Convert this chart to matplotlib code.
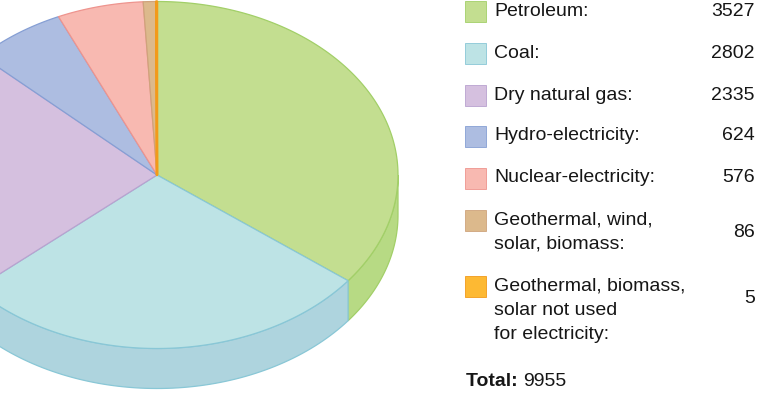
import numpy as np
import matplotlib
matplotlib.use("Agg")
import matplotlib.pyplot as plt
from matplotlib.patches import Polygon, Rectangle

# ---- data ----
categories = ["Petroleum:", "Coal:", "Dry natural gas:", "Hydro-electricity:",
              "Nuclear-electricity:", "Geothermal, wind,\nsolar, biomass:",
              "Geothermal, biomass,\nsolar not used\nfor electricity:"]
values = [3527, 2802, 2335, 624, 576, 86, 5]
total_label = "9955"

# ---- styles ----
face_colors = ["#c3de90", "#bde3e5", "#d5c0df", "#adbde1", "#f8b9b1", "#dcb98c", "#fdb933"]
edge_colors = ["#a2cf68", "#89c7d6", "#b9a2cf", "#869fd4", "#ee948e", "#cfa37c", "#f29a1a"]
side_colors = ["#b7da84", "#aed4de", "#c9b2d6", "#9fb0d8", "#efaaa3", "#d0ac80", "#f5ab2a"]
text_color = "#161616"
font = "Liberation Sans"

fig = plt.figure(figsize=(7.58, 3.98), dpi=100)
ax = fig.add_axes([0, 0, 1, 1])
ax.set_xlim(0, 758)
ax.set_ylim(398, 0)
ax.axis("off")

cx, cy, a, b, depth = 157, 175, 241, 173.5, 40

def pt(theta_deg, dy=0):
    t = np.radians(theta_deg)
    return cx + a * np.sin(t), cy - b * np.cos(t) + dy

vals = np.array(values, dtype=float)
bounds = np.concatenate([[0], np.cumsum(vals) / vals.sum() * 360])

# sides (front half: 90..270 deg clockwise from top)
for i in range(len(vals)):
    s1, s2 = max(bounds[i], 90), min(bounds[i + 1], 270)
    if s2 <= s1:
        continue
    th = np.linspace(s1, s2, 80)
    top = [pt(t) for t in th]
    bot = [pt(t, depth) for t in th[::-1]]
    ax.add_patch(Polygon(top + bot, closed=True, facecolor=side_colors[i],
                         edgecolor=edge_colors[i], lw=0.9, zorder=1))

# top faces
for i in range(len(vals)):
    th = np.linspace(bounds[i], bounds[i + 1], max(3, int((bounds[i + 1] - bounds[i]) * 2)))
    poly = [(cx, cy)] + [pt(t) for t in th]
    ax.add_patch(Polygon(poly, closed=True, facecolor=face_colors[i],
                         edgecolor=edge_colors[i], lw=0.9 if i < 6 else 1.8,
                         zorder=2, joinstyle="round"))

# legend
sq_x, sq_w = 465, 21
label_x, value_x = 494, 755
row_y = [11, 53, 95, 136, 178, 220, 286]
line_h = 24.2
fs = 14
for i, (lab, v) in enumerate(zip(categories, values)):
    y = row_y[i]
    ax.add_patch(Rectangle((sq_x, y - sq_w / 2), sq_w, sq_w, facecolor=face_colors[i],
                           edgecolor=edge_colors[i], lw=0.6, zorder=3))
    lines = lab.split("\n")
    for k, line in enumerate(lines):
        ax.text(label_x, y + k * line_h, line, fontsize=fs, family=font, color=text_color,
                ha="left", va="center")
    vy = y if len(lines) == 1 else y + line_h / 2
    ax.text(value_x, vy, str(v), fontsize=fs, family=font, color=text_color,
            ha="right", va="center")

t1 = ax.text(466, 382, "Total: ", fontsize=fs, family=font, weight="bold",
             color=text_color, ha="left", va="center")
fig.canvas.draw()
bb = t1.get_window_extent()
x_end = ax.transData.inverted().transform((bb.x1, bb.y0))[0]
ax.text(x_end, 382, total_label, fontsize=fs, family=font, color=text_color,
        ha="left", va="center")

fig.savefig("out.png", dpi=100)
